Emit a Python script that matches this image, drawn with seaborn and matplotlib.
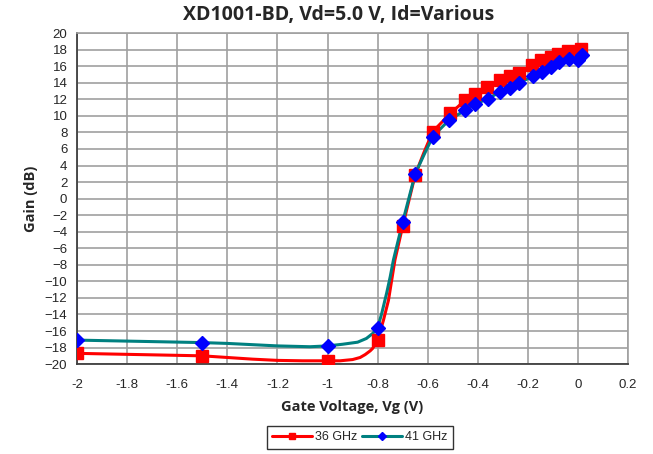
import numpy as np
import pandas as pd
import seaborn as sns
from matplotlib import pyplot as plt
from matplotlib.lines import Line2D

vg_36 = [-2.0, -1.5, -1.0, -0.8, -0.7, -0.65, -0.58, -0.51, -0.45, -0.41, -0.365,
         -0.31, -0.27, -0.235, -0.185, -0.15, -0.11, -0.08, -0.04, 0.01]
gain_36 = [-18.7, -19.0, -19.6, -17.1, -3.3, 2.9, 8.1, 10.3, 11.9, 12.6, 13.5,
           14.3, 14.8, 15.2, 16.1, 16.7, 17.1, 17.5, 17.9, 18.1]

vg_41 = [-2.0, -1.5, -1.0, -0.8, -0.7, -0.65, -0.58, -0.515, -0.45, -0.41, -0.36,
         -0.31, -0.27, -0.235, -0.18, -0.145, -0.11, -0.075, -0.035, 0.0, 0.015]
gain_41 = [-17.1, -17.4, -17.8, -15.6, -2.8, 3.0, 7.5, 9.5, 10.7, 11.4, 12.1,
           12.9, 13.4, 14.0, 14.8, 15.3, 15.9, 16.5, 16.9, 16.7, 17.3]

# curvas contínuas (mais pontos na região de transição)
line_vg_36 = [-2.0, -1.5, -1.4, -1.3, -1.2, -1.1, -1.0, -0.95, -0.9, -0.87, -0.85, -0.83,
              -0.82, -0.8, -0.777, -0.757, -0.744, -0.731, -0.7, -0.65, -0.615, -0.58]
line_gain_36 = [-18.7, -19.0, -19.2, -19.4, -19.55, -19.6, -19.6, -19.6, -19.45, -19.2, -18.85,
                -18.4, -18.1, -17.1, -14.7, -12.3, -9.85, -7.4, -3.3, 2.9, 5.6, 8.1]
line_vg_36 += vg_36[7:]
line_gain_36 += gain_36[7:]

line_vg_41 = [-2.0, -1.5, -1.4, -1.2, -1.07, -1.0, -0.94, -0.88, -0.845, -0.82, -0.8,
              -0.784, -0.764, -0.75, -0.737, -0.7, -0.65, -0.615, -0.58]
line_gain_41 = [-17.1, -17.4, -17.5, -17.8, -17.9, -17.8, -17.6, -17.35, -16.9, -16.3, -15.6,
                -13.9, -11.4, -9.45, -7.4, -2.8, 3.0, 5.3, 7.5]
line_vg_41 += vg_41[7:]
line_gain_41 += gain_41[7:]

RED = '#FF0000'
TEAL = '#008080'
BLUE = '#0000FF'
BOLD_FONT = ['Open Sans', 'DejaVu Sans']

sns.set_style('white')
plt.rcParams['font.family'] = ['Liberation Sans', 'DejaVu Sans']

fig = plt.figure(figsize=(6.53, 4.54), dpi=100)
ax = fig.add_axes([0.118, 0.198, 0.844, 0.729])

sns.lineplot(x=line_vg_36, y=line_gain_36, ax=ax, color=RED, linewidth=2.2, sort=False)
sns.lineplot(x=line_vg_41, y=line_gain_41, ax=ax, color=TEAL, linewidth=2.2, sort=False)

ax.plot(vg_36, gain_36, linestyle='none', marker='s', markersize=8.5, color=RED, zorder=4)
ax.plot(vg_41, gain_41, linestyle='none', marker='D', markersize=7.5, color=BLUE, zorder=5)

ax.set_xlim(-2, 0.2)
ax.set_ylim(-20, 20)
ax.set_xticks(np.arange(-2, 0.21, 0.2))
ax.set_yticks(np.arange(-20, 21, 2))
ax.set_xticklabels(['-2', '-1.8', '-1.6', '-1.4', '-1.2', '-1', '-0.8', '-0.6', '-0.4',
                    '-0.2', '0', '0.2'])
ax.grid(True, color='#a0a0a0', linewidth=1.2)
ax.set_axisbelow(True)

for side in ['top', 'right']:
    ax.spines[side].set_color('#a0a0a0')
    ax.spines[side].set_linewidth(1.2)
for side in ['left', 'bottom']:
    ax.spines[side].set_color('#404040')
    ax.spines[side].set_linewidth(1.3)

ax.tick_params(axis='both', direction='out', length=4, width=1, color='#404040',
               labelsize=9.5, pad=3)
ax.tick_params(axis='x', pad=7)

ax.set_xlabel('Gate Voltage, Vg (V)', fontsize=10.5, fontweight='bold',
              family=BOLD_FONT, labelpad=6)
ax.set_ylabel('Gain (dB)', fontsize=10.5, fontweight='bold',
              family=BOLD_FONT, labelpad=5)

fig.text(0.518, 0.966, 'XD1001-BD, Vd=5.0 V, Id=Various', ha='center', va='center',
         fontsize=14, fontweight='bold', family=BOLD_FONT)

handles = [
    Line2D([0], [0], color=RED, linewidth=2.2, marker='s', markersize=5),
    Line2D([0], [0], color=TEAL, linewidth=2.2, marker='D', markersize=4.5,
           markerfacecolor=BLUE, markeredgecolor=BLUE),
]
leg = fig.legend(handles, ['36 GHz', '41 GHz'], loc='center', bbox_to_anchor=(0.551, 0.037),
                 ncol=2, fontsize=9, frameon=True, fancybox=False, handlelength=3.2,
                 handletextpad=0.2, columnspacing=0.4, borderpad=0.45)
leg.get_frame().set_edgecolor('black')
leg.get_frame().set_linewidth(1.0)

fig.savefig('out.png', dpi=100)
